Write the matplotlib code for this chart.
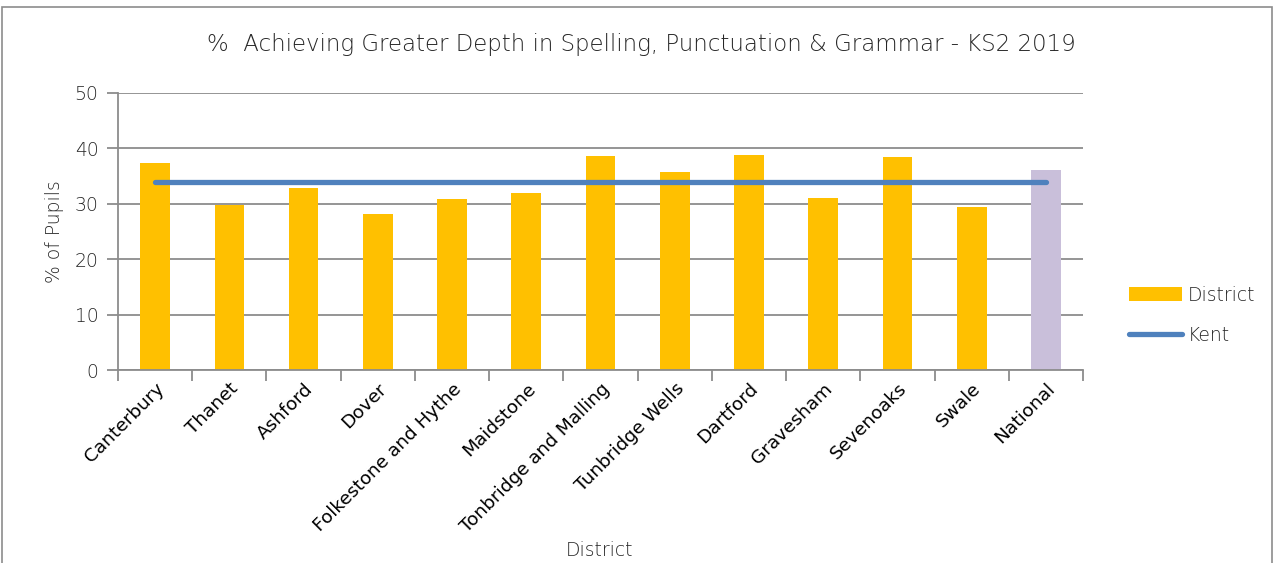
import matplotlib.pyplot as plt
import numpy as np
from matplotlib.patches import Rectangle

plt.rcParams['font.family'] = ['DejaVu Sans']

districts = ["Canterbury", "Thanet", "Ashford", "Dover", "Folkestone and Hythe",
             "Maidstone", "Tonbridge and Malling", "Tunbridge Wells", "Dartford",
             "Gravesham", "Sevenoaks", "Swale", "National"]
district_pct = [37.3, 29.7, 32.8, 28.1, 30.9, 31.9, 38.6, 35.7, 38.8, 31.0, 38.4, 29.5, 36.1]
kent_pct = [34.0] * len(districts)

bar_colors = ["#FFC000"] * (len(districts) - 1) + ["#C9BFDA"]
grid_col = "#8C8C8C"
text_col = "#262626"
light = "light"

fig = plt.figure(figsize=(12.75, 5.63), dpi=100)
ax = fig.add_axes([118 / 1275, 1 - 370 / 563, (1083 - 118) / 1275, (370 - 93) / 563])

# outer chart border
fig.patches.append(Rectangle((2 / 1275, -0.05), 1270 / 1275, 1.05 - 7 / 563,
                             transform=fig.transFigure, fill=False,
                             edgecolor="#8C8C8C", linewidth=1.2))

x = np.arange(len(districts))
bars = ax.bar(x, district_pct, width=0.4, color=bar_colors, zorder=2)
line, = ax.plot(x, kent_pct, color="#4F81BD", linewidth=3.8, solid_capstyle="round",
                zorder=3)

ax.set_xlim(-0.5, len(districts) - 0.5)
ax.set_ylim(0, 50)
ax.set_yticks(range(0, 51, 10))
ax.grid(axis="y", color=grid_col, linewidth=1.3, zorder=0)
for s in ["top", "right"]:
    ax.spines[s].set_visible(False)
for s in ["left", "bottom"]:
    ax.spines[s].set_color(grid_col)
    ax.spines[s].set_linewidth(1.3)

ax.tick_params(axis="y", length=8, color=grid_col, width=1.3, labelsize=13.5,
               labelcolor=text_col, pad=6)
for t in ax.get_yticklabels():
    t.set_fontweight(light)
ax.set_xticks(x)
ax.set_xticklabels(districts, rotation=45, ha="right", rotation_mode="anchor",
                   fontsize=13.3, color="black")
ax.tick_params(axis="x", length=0, pad=7)
ax.set_xticks(np.arange(-0.5, len(districts), 1), minor=True)
ax.tick_params(axis="x", which="minor", length=8, color=grid_col, width=1.3)

ax.set_ylabel("% of Pupils", fontsize=13.5, color=text_col, labelpad=8,
              fontweight=light)
fig.text(600 / 1275, 1 - 550 / 563, "District", fontsize=13.5, color=text_col,
         ha="center", va="center", fontweight=light)
fig.text(641 / 1275, 1 - 44 / 563,
         "%  Achieving Greater Depth in Spelling, Punctuation & Grammar - KS2 2019",
         fontsize=16.5, color=text_col, ha="center", va="center", fontweight=light)

leg = ax.legend([bars, line], ["District", "Kent"], loc="upper left",
                bbox_to_anchor=(1.048, 0.305), frameon=False, borderpad=0,
                borderaxespad=0, labelcolor=text_col, handlelength=2.8,
                handleheight=0.8, labelspacing=1.15, handletextpad=0.3,
                prop={"weight": light, "size": 13.5})

fig.savefig("out.png", dpi=100)
